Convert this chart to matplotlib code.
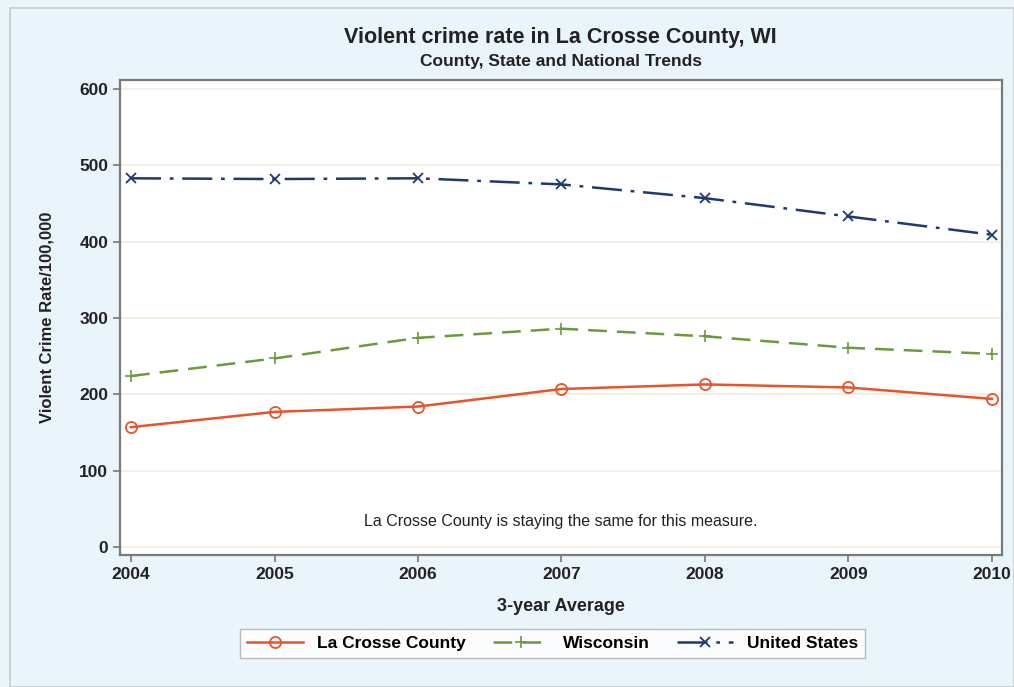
import matplotlib
matplotlib.use("Agg")
import matplotlib.pyplot as plt
from matplotlib.patches import Rectangle

# data
years = [2004, 2005, 2006, 2007, 2008, 2009, 2010]
la_crosse = [157, 177, 184, 207, 213, 209, 194]
wisconsin = [224, 247, 274, 286, 276, 261, 253]
united_states = [483, 482, 483, 475, 457, 433, 409]
y_ticks = [0, 100, 200, 300, 400, 500, 600]

plt.rcParams['font.family'] = ['Liberation Sans', 'DejaVu Sans']

bg = '#eaf4fb'
fig = plt.figure(figsize=(10.14, 6.87), dpi=100, facecolor=bg)
fig.patches.append(Rectangle((0.0099, 0.0), 0.99, 0.988, transform=fig.transFigure,
                             fill=False, edgecolor='#c8ccd0', linewidth=1.2))

ax = fig.add_axes([0.1183, 0.1921, 0.8699, 0.6915])
ax.set_facecolor('white')

ax.plot(years, la_crosse, color='#e8532b', linewidth=1.8, marker='o', markersize=8,
        markerfacecolor='none', markeredgewidth=1.3, label='La Crosse County')
ax.plot(years, wisconsin, color='#6b9a3e', linewidth=1.8, linestyle=(0, (7.5, 4)),
        marker='+', markersize=9, markeredgewidth=1.2, label='Wisconsin')
ax.plot(years, united_states, color='#1f3a6e', linewidth=1.8,
        linestyle=(0, (12, 3.5, 1.5, 3.5)),
        marker='x', markersize=7, markeredgewidth=1.3, label='United States')

ax.set_xlim(2003.923, 2010.07)
ax.set_ylim(-10.5, 611.8)
ax.set_xticks(years)
ax.set_yticks(y_ticks)
ax.tick_params(axis='both', direction='out', length=5, width=1.2, color='#777777',
               labelsize=12.5, labelcolor='#222222')
for lbl in ax.get_xticklabels() + ax.get_yticklabels():
    lbl.set_fontweight('bold')

ax.grid(axis='y', color='#efeedd', linewidth=1.2)
ax.set_axisbelow(True)
for s in ax.spines.values():
    s.set_color('#7a7a7a')
    s.set_linewidth(1.6)

ax.text(0.5, 0.07, 'La Crosse County is staying the same for this measure.',
        transform=ax.transAxes, ha='center', va='center', fontsize=11.5, color='#222222')

ax.set_xlabel('3-year Average', fontsize=13, fontweight='bold', labelpad=12, color='#222222')
ax.set_ylabel('Violent Crime Rate/100,000', fontsize=12, fontweight='bold', labelpad=18,
              color='#222222')

fig.text(0.553, 0.946, 'Violent crime rate in La Crosse County, WI', ha='center', va='center',
         fontsize=15.5, fontweight='bold', color='#222222')
fig.text(0.553, 0.911, 'County, State and National Trends', ha='center', va='center',
         fontsize=12.5, fontweight='bold', color='#222222')

leg = fig.legend(loc='center', bbox_to_anchor=(0.545, 0.064), ncol=3, fontsize=12.5,
                 frameon=True, fancybox=False, edgecolor='#aaaaaa', handlelength=3.2,
                 columnspacing=1.6, borderpad=0.4)
leg.get_frame().set_linewidth(1.0)
for t in leg.get_texts():
    t.set_fontweight('bold')

fig.savefig('out.png', dpi=100, facecolor=bg)
